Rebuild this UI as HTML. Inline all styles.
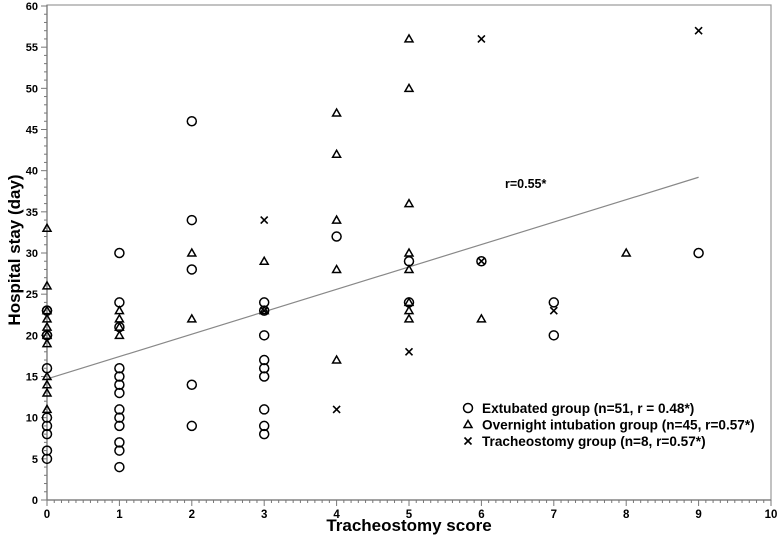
<!DOCTYPE html>
<html><head><meta charset="utf-8"><style>
html,body{margin:0;padding:0;background:#fff;}
svg text{font-family:"Liberation Sans",Arial,sans-serif;font-weight:bold;fill:#000;}
</style></head><body>
<svg id="chart" width="778" height="545" viewBox="0 0 778 545" xmlns="http://www.w3.org/2000/svg">
<g id="axes"></g>
<g id="marks"></g>
<g id="legend"></g>
</svg>
<script>
const xTicks=[0,1,2,3,4,5,6,7,8,9,10];
const yTicks=[0,5,10,15,20,25,30,35,40,45,50,55,60];
const extX=[0,0,0,0,0,0,0,0,0,0,1,1,1,1,1,1,1,1,1,1,1,1,1,2,2,2,2,2,3,3,3,3,3,3,3,3,3,4,5,5,6,7,7,9];
const extY=[23,20,16,10,9,8,6,5,23,20,30,24,21,16,15,14,13,11,10,9,7,6,4,46,34,28,14,9,24,23,20,17,16,15,11,9,8,32,29,24,29,24,20,30];
const ovX=[0,0,0,0,0,0,0,0,0,0,0,1,1,1,1,2,2,3,3,4,4,4,4,4,5,5,5,5,5,5,5,5,6,8];
const ovY=[33,26,23,22,21,20,19,15,14,13,11,23,22,21,20,30,22,29,23,47,42,34,28,17,56,50,36,30,28,24,23,22,22,30];
const trX=[3,3,4,5,6,6,7,9];
const trY=[34,23,11,18,56,29,23,57];
const fitX=[0,9];
const fitY=[14.7,39.2];
const X0=47,X1=771,Y0=500,Y1=6;
const sx=v=>X0+(X1-X0)*v/10;
const sy=v=>Y0-(Y0-Y1)*v/60;
const NS='http://www.w3.org/2000/svg';
function mk(tag,attrs,parent){const e=document.createElementNS(NS,tag);for(const k in attrs)e.setAttribute(k,attrs[k]);parent.appendChild(e);return e;}
const axes=document.getElementById('axes'),marks=document.getElementById('marks'),legend=document.getElementById('legend');
let f=mk('rect',{x:X0,y:Y1-1,width:X1-X0,height:Y0-Y1+1,fill:'none',stroke:'#999','stroke-width':1.2},axes);


let ax=mk('line',{x1:X0,y1:Y0,x2:X1,y2:Y0,stroke:'#777','stroke-width':1.2},axes);


let ay=mk('line',{x1:X0,y1:Y0,x2:X0,y2:Y1-1,stroke:'#777','stroke-width':1.2},axes);


for(let i=0;i<=100;i++){const x=sx(i/10);const l=mk('line',{x1:x,y1:Y0,x2:x,y2:Y0+(i%10==0?6:3),stroke:'#777','stroke-width':1},axes);

}
for(let i=0;i<=60;i++){const y=sy(i);const l=mk('line',{x1:X0,y1:y,x2:X0-(i%5==0?6:3),y2:y,stroke:'#777','stroke-width':1},axes);

}
xTicks.forEach(v=>{const t=mk('text',{x:sx(v),y:Y0+18,'text-anchor':'middle','font-size':11.5},axes);t.textContent=v;

});
yTicks.forEach(v=>{const t=mk('text',{x:X0-9,y:sy(v)+4,'text-anchor':'end','font-size':11},axes);t.textContent=v;

});
let xt=mk('text',{x:409,y:531,'text-anchor':'middle','font-size':17},axes);xt.textContent='Tracheostomy score';


let yt=mk('text',{x:0,y:0,'text-anchor':'middle','font-size':17,transform:'translate(20,250) rotate(-90)'},axes);yt.textContent='Hospital stay (day)';


let fl=mk('line',{x1:sx(fitX[0]),y1:sy(fitY[0]),x2:sx(fitX[1]),y2:sy(fitY[1]),stroke:'#888','stroke-width':1.2},marks);


let rl=mk('text',{x:505,y:188,'font-size':12.5},marks);rl.textContent='r=0.55*';


function circ(x,y,p){return mk('circle',{cx:x,cy:y,r:4.5,fill:'none',stroke:'#000','stroke-width':1.5},p);}
function tri(x,y,p){return mk('path',{d:`M${x-4},${y+3} L${x+4},${y+3} L${x},${y-4} Z`,fill:'none',stroke:'#000','stroke-width':1.5},p);}
function crs(x,y,p){return mk('path',{d:`M${x-3.5},${y-3.5} L${x+3.5},${y+3.5} M${x+3.5},${y-3.5} L${x-3.5},${y+3.5}`,stroke:'#000','stroke-width':1.6},p);}
extX.forEach((v,i)=>{const e=circ(sx(v),sy(extY[i]),marks);

});
ovX.forEach((v,i)=>{const e=tri(sx(v),sy(ovY[i]),marks);

});
trX.forEach((v,i)=>{const e=crs(sx(v),sy(trY[i]),marks);

});
const leg=[['c','Extubated group (n=51, r = 0.48*)'],['t','Overnight intubation group (n=45, r=0.57*)'],['x','Tracheostomy group (n=8, r=0.57*)']];
leg.forEach((d,i)=>{const y=408+i*16.5;
const m=d[0]=='c'?circ(468,y,legend):d[0]=='t'?tri(468,y,legend):crs(468,y,legend);


const t=mk('text',{x:482,y:y+5,'font-size':13.6},legend);t.textContent=d[1];

});
</script>
</body></html>
